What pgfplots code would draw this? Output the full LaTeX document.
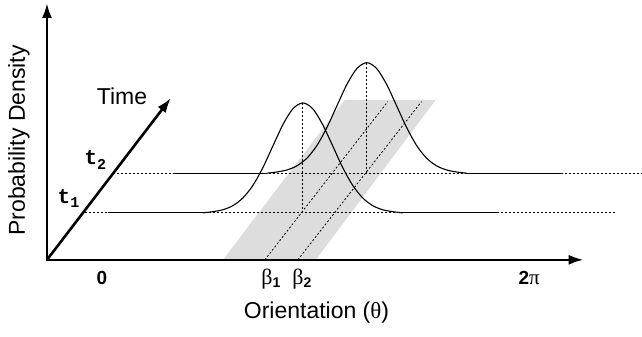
\documentclass[border=0pt]{standalone}
\usepackage{pgfplots}
\pgfplotsset{compat=1.18}
\usepackage{fontspec}
\setmainfont{Liberation Sans}
\newfontfamily\grk{Liberation Serif}
\newfontfamily\monob{Liberation Mono}[BoldFont={* Bold}]
\usetikzlibrary{arrows.meta}
\definecolor{band}{RGB}{221,221,221}
\begin{document}
\begin{tikzpicture}
\begin{axis}[
  scale only axis, width=642pt, height=337pt,
  xmin=0, xmax=642, ymin=0, ymax=337, y dir=reverse,
  hide axis, clip=false,
]
\path (axis cs:0,0) rectangle (axis cs:642,337);
% gray band
\addplot[draw=none, fill=band] coordinates {(223,260) (316,260) (436,100) (345,100)} -- cycle;
% dashed guide lines
\addplot[black, line width=0.8pt, dash pattern=on 2pt off 2pt] coordinates {(85,213) (615,213)};
\addplot[black, line width=0.8pt, dash pattern=on 2pt off 2pt] coordinates {(113,173.3) (642,173.3)};
\addplot[black, line width=0.9pt, dash pattern=on 2pt off 2pt] coordinates {(303,103) (303,213)};
\addplot[black, line width=0.9pt, dash pattern=on 2pt off 2pt] coordinates {(367,62.7) (367,173.3)};
\addplot[black, line width=0.8pt, dash pattern=on 2pt off 2pt] coordinates {(265,260) (388,101.7)};
\addplot[black, line width=0.8pt, dash pattern=on 2pt off 2pt] coordinates {(298,260) (421.7,101.7)};
% baselines (solid)
\addplot[black, line width=1.1pt] coordinates {(108,213) (203,213)};
\addplot[black, line width=1.1pt] coordinates {(403,213) (498,213)};
\addplot[black, line width=1.1pt] coordinates {(175,173.3) (267,173.3)};
\addplot[black, line width=1.1pt] coordinates {(467,173.3) (562,173.3)};
% curve at t1
\addplot[black, line width=1.1pt, smooth] coordinates {
(203,213) (213,211.8) (223,209.9) (233,205.8) (243,198.1) (253,185.6) (263,167.8)
(273,146.2) (283,124.9) (293,108.9) (303,103) (313,108.9) (323,124.9) (333,146.2)
(343,167.8) (353,185.6) (363,198.1) (373,205.8) (383,209.9) (393,211.8) (403,213)};
% curve at t2
\addplot[black, line width=1.1pt, smooth] coordinates {
(267,173.3) (277,172.1) (287,170.1) (297,166.0) (307,158.4) (317,145.8) (327,127.8)
(337,106.2) (347,84.7) (357,68.7) (367,62.7) (377,68.7) (387,84.7) (397,106.2)
(407,127.8) (417,145.8) (427,158.4) (437,166.0) (447,170.1) (457,172.1) (467,173.3)};
% axes
\addplot[black, line width=2.6pt, -{Latex[length=15pt,width=10pt]}] coordinates {(47,261) (47,3)};
\addplot[black, line width=2.6pt, -{Latex[length=15pt,width=10pt]}] coordinates {(46,260) (584,260)};
\addplot[black, line width=2.6pt, -{Latex[length=15pt,width=10pt]}] coordinates {(47,260) (171,98)};
% labels
\node[rotate=90] at (axis cs:19,140.5) {\fontsize{23}{27}\selectfont Probability Density};
\node at (axis cs:122,96.5) {\fontsize{23}{27}\selectfont Time};
\node at (axis cs:316.7,313) {\fontsize{23}{27}\selectfont Orientation ({\grk θ})};
\node at (axis cs:95.5,160) {\monob\bfseries\fontsize{21}{24}\selectfont t\raisebox{-0.22em}{\fontsize{15}{17}\selectfont 2}};
\node at (axis cs:68.5,198.5) {\monob\bfseries\fontsize{21}{24}\selectfont t\raisebox{-0.22em}{\fontsize{15}{17}\selectfont 1}};
\node at (axis cs:102,278) {\fontsize{19}{22}\selectfont\bfseries 0};
\node at (axis cs:529.5,278) {\fontsize{19}{22}\selectfont\textbf{2}{\grk\fontsize{21}{23}\selectfont π}};
\node at (axis cs:271,279) {\fontsize{22}{25}\selectfont{\grk β}\raisebox{-0.15em}{\bfseries\fontsize{14}{16}\selectfont 1}};
\node at (axis cs:302,279) {\fontsize{22}{25}\selectfont{\grk β}\raisebox{-0.15em}{\bfseries\fontsize{14}{16}\selectfont 2}};
\end{axis}
\end{tikzpicture}
\end{document}
